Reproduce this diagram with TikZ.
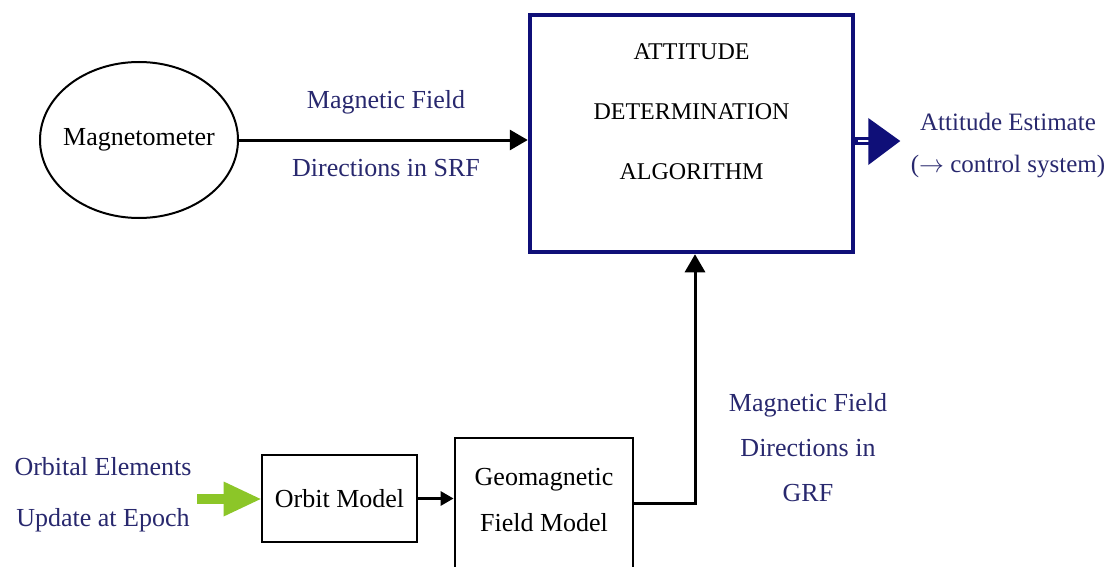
\documentclass[tikz,border=0pt]{standalone}
\usepackage{fontspec}
\setmainfont{Liberation Serif}
\usetikzlibrary{arrows.meta,shapes.geometric,calc}
\definecolor{navyline}{RGB}{15,15,120}
\definecolor{navytext}{RGB}{40,40,110}
\definecolor{limegreen}{RGB}{140,198,40}
\newcommand{\fsz}[2]{\fontsize{#1}{#2}\selectfont}
\begin{document}
\begin{tikzpicture}[x=1pt,y=-1pt,
  lbl/.style={text=navytext, align=center, inner sep=0pt},
  blkbox/.style={draw=black, line width=2.8pt, fill=white, inner sep=0pt},
  conn/.style={draw=black, line width=3pt, -{Triangle[length=18pt,width=20pt]}},
]
\clip (0,0) rectangle (1113,567);
\fill[white] (0,0) rectangle (1113,567);

% nodes
\node[ellipse, draw=black, line width=2pt, minimum width=198pt, minimum height=156pt, inner sep=-10pt, font=\fsz{26}{30}] (mag) at (139,140) {Magnetometer};
\node[draw=navyline, line width=4.5pt, minimum width=323pt, minimum height=237pt, inner sep=0pt] (ada) at (691.5,133.5) {};
\node[font=\fsz{24}{60}, align=center, inner sep=0pt] (adatext) at (691.5,112) {ATTITUDE\\DETERMINATION\\ALGORITHM};
\node[blkbox, minimum width=155pt, minimum height=87pt, font=\fsz{26}{30}] (orbit) at (339.5,498.5) {Orbit Model};
\node[blkbox, minimum width=178pt, minimum height=130pt] (geo) at (544,503) {};
\node[font=\fsz{26}{46}, align=center, inner sep=0pt] (geotext) at (544,500) {Geomagnetic\\Field Model};

% labels
\node[lbl, font=\fsz{26}{68}] (lblsrf) at (386,134) {Magnetic Field\\Directions in SRF};
\node[lbl, font=\fsz{25}{42}] (lblout) at (1008,146) {Attitude Estimate\\($\rightarrow$ control system)};
\node[lbl, font=\fsz{26}{45}] (lblgrf) at (808,448) {Magnetic Field\\Directions in\\GRF};
\node[lbl, font=\fsz{26}{51}] (lblorb) at (103,495) {Orbital Elements\\Update at Epoch};

% connectors
\draw[conn] (mag.east) -- (mag.east -| ada.west);
\draw[conn] (geo.east) -| ([xshift=3.5pt]ada.south);
\draw[conn, -{Triangle[length=13pt,width=14pt]}] (orbit.east) -- (orbit.east -| geo.west);
\coordinate (gs) at (197,499);
\draw[limegreen, line width=10pt, -{Triangle[length=37pt,width=35pt,line width=0pt]}] (gs) -- (gs -| orbit.west);

% thick output arrow
\coordinate (outA) at ([yshift=-7.5pt]ada.east);
\draw[navyline, line width=8pt] (outA) -- ++(15,0);
\draw[white, line width=1.6pt] ([xshift=2.5pt]outA) -- ++(11.5,0);
\fill[navyline] ($(outA)+(13,-23)$) -- ($(outA)+(45,0)$) -- ($(outA)+(13,24)$) -- cycle;
\end{tikzpicture}
\end{document}
